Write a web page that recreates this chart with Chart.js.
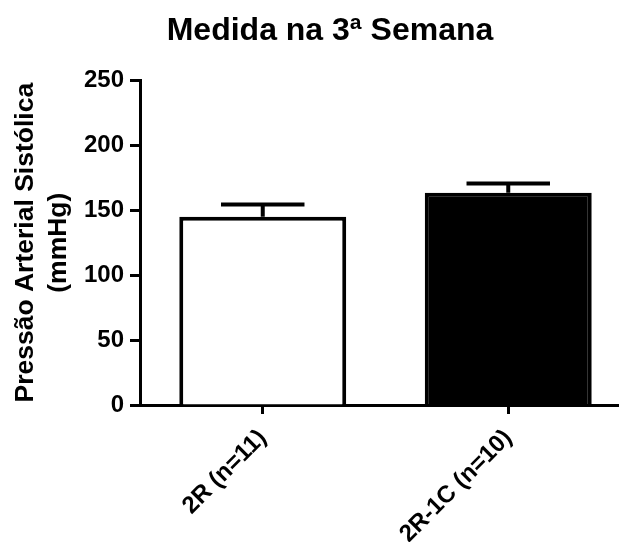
<!DOCTYPE html>
<html>
<head>
<meta charset="utf-8">
<script src="https://cdn.jsdelivr.net/npm/chart.js@4"></script>
<style>
  html, body { margin: 0; padding: 0; background: #fff; }
  #wrap { width: 619px; height: 542px; }
</style>
</head>
<body>
<div id="wrap"><canvas id="barChart" width="619" height="542"></canvas></div>
<script>
// groups, mean values and error (SEM)
const groups = ['2R (n=11)', '2R-1C (n=10)'];
const means = [145, 163.5];
const errors = [9.5, 7];
const yTicks = [0, 50, 100, 150, 200, 250];

const font = 'Liberation Sans, Arial, sans-serif';

// the x axis runs off the right edge in the original, so stretch it a bit
const stretchX = {
    id: 'stretchX',
    afterLayout(chart) {
        const x = chart.scales.x;
        x.right += 12;
        x.width += 12;
        chart.chartArea.right += 12;
        chart.chartArea.width += 12;
        x.configure();
    }
};

// draws the upper half of the error bars
const errorBars = {
    id: 'errorBars',
    afterDatasetsDraw(chart) {
        const ctx = chart.ctx;
        const y = chart.scales.y;
        const meta = chart.getDatasetMeta(0);
        ctx.save();
        ctx.strokeStyle = '#000';
        ctx.lineWidth = 4;
        meta.data.forEach(function (bar, i) {
            const top = y.getPixelForValue(means[i] + errors[i]);
            const base = y.getPixelForValue(means[i]);
            const half = bar.width / 4;
            ctx.beginPath();
            ctx.moveTo(bar.x, base);
            ctx.lineTo(bar.x, top);
            ctx.moveTo(bar.x - half, top);
            ctx.lineTo(bar.x + half, top);
            ctx.stroke();
        });
        ctx.restore();
    }
};

new Chart(document.getElementById('barChart').getContext('2d'), {
    type: 'bar',
    data: {
        labels: groups,
        datasets: [{
            data: means,
            backgroundColor: ['#fff', '#000'],
            borderColor: '#000',
            borderWidth: 4,
            borderSkipped: 'bottom',
            barPercentage: 0.68,
            categoryPercentage: 1
        }]
    },
    options: {
        responsive: false,
        animation: false,
        layout: { padding: { left: 41, right: 0, top: 0, bottom: 0 } },
        plugins: {
            legend: { display: false },
            tooltip: { enabled: false },
            title: {
                display: true,
                text: 'Medida na 3ª Semana',
                color: '#000',
                font: { family: font, size: 32, weight: 'bold', lineHeight: 1.2 },
                padding: { top: 12, bottom: 30 }
            }
        },
        scales: {
            x: {
                afterFit(scale) { scale.height = 137; },
                grid: { drawOnChartArea: false, drawTicks: true, offset: false, tickLength: 9, tickWidth: 3, tickColor: '#000' },
                border: { color: '#000', width: 3 },
                ticks: {
                    color: '#000',
                    font: { family: font, size: 24, weight: 'bold' },
                    minRotation: 45,
                    maxRotation: 45,
                    padding: 10
                }
            },
            y: {
                min: 0,
                max: 250,
                afterBuildTicks(scale) {
                    scale.ticks = yTicks.map(v => ({ value: v }));
                },
                afterFit(scale) { scale.width = 99; },
                grid: { drawOnChartArea: false, drawTicks: true, tickLength: 10, tickWidth: 3, tickColor: '#000' },
                border: { color: '#000', width: 3 },
                ticks: {
                    color: '#000',
                    font: { family: font, size: 24, weight: 'bold' },
                    padding: 6
                },
                title: {
                    display: true,
                    text: ['Pressão Arterial Sistólica', '(mmHg)'],
                    color: '#000',
                    font: { family: font, size: 26.5, weight: 'bold', lineHeight: 1.22 },
                    padding: { top: -31, bottom: 0 }
                }
            }
        }
    },
    plugins: [stretchX, errorBars]
});
</script>
</body>
</html>
